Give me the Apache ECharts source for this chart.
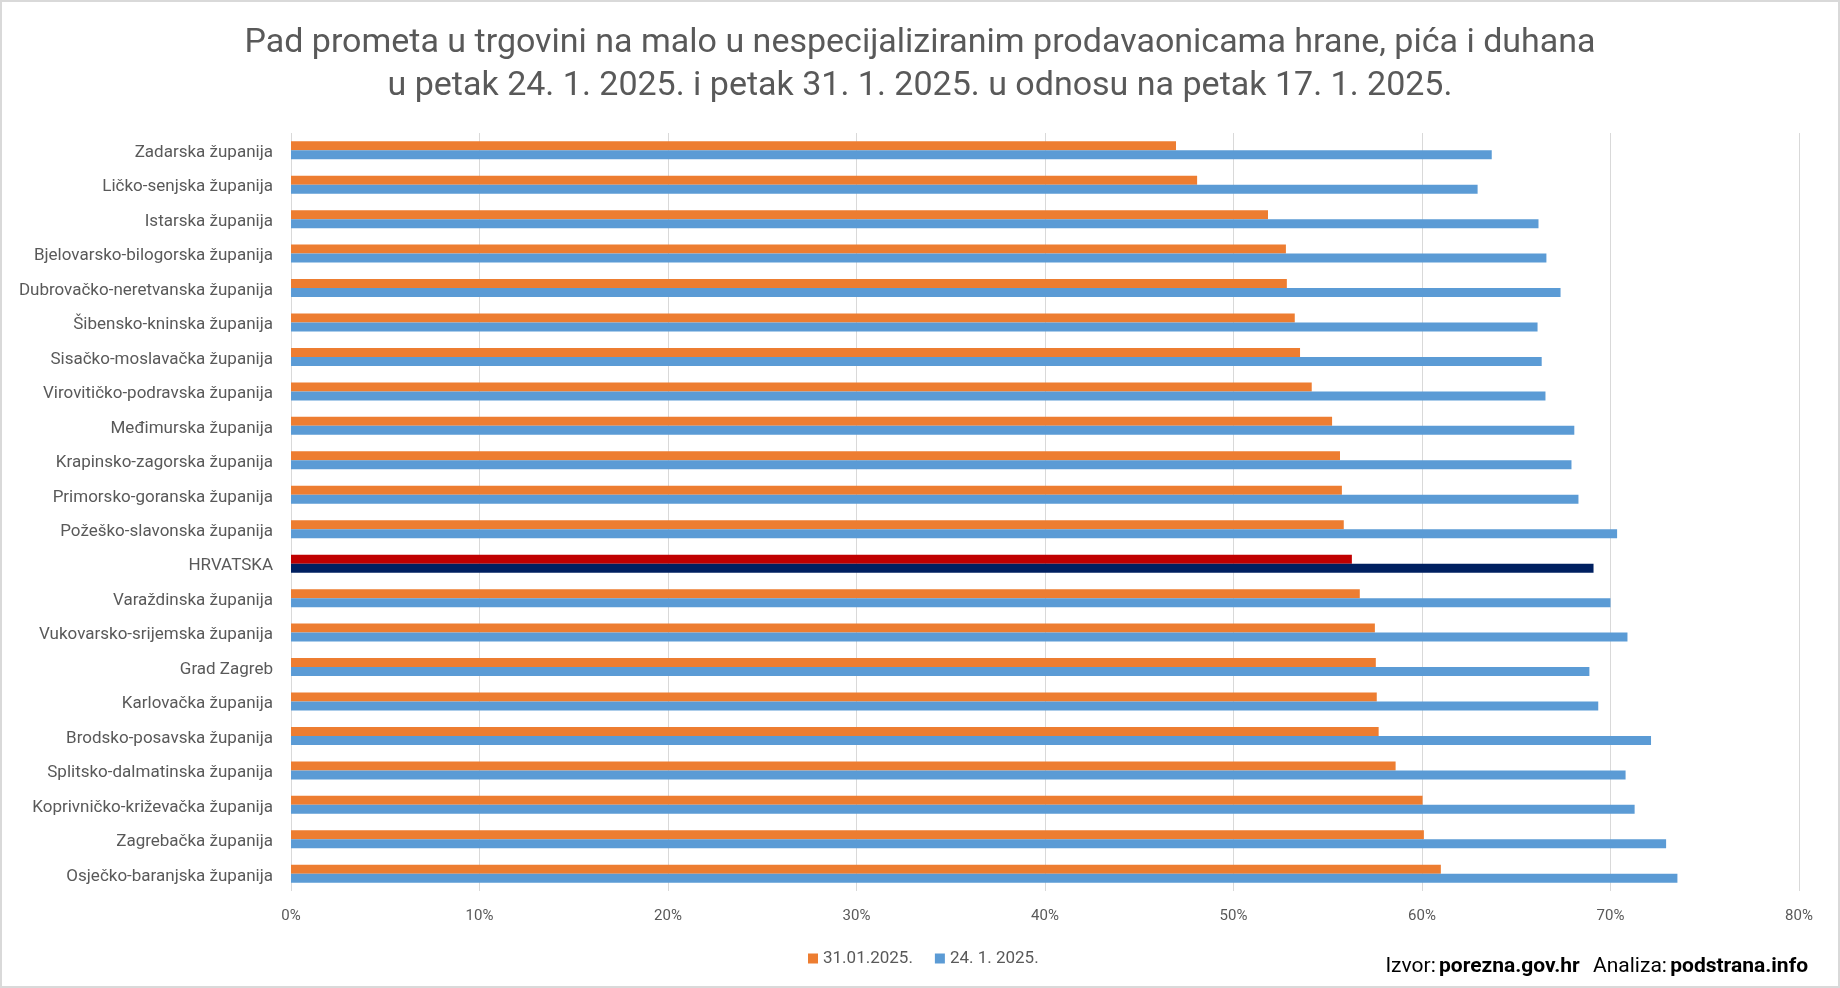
<!DOCTYPE html>
<html>
<head>
<meta charset="utf-8">
<title>Pad prometa u trgovini na malo</title>
<script src="https://cdn.jsdelivr.net/npm/echarts@6/dist/echarts.min.js"></script>
<style>
  html, body { margin: 0; padding: 0; background: #fff; }
  #chart { width: 1840px; height: 988px; }
</style>
</head>
<body>
<div id="chart"></div>
<script>
// counties, top to bottom as in the picture
var counties = [
  "Zadarska županija", "Ličko-senjska županija", "Istarska županija",
  "Bjelovarsko-bilogorska županija", "Dubrovačko-neretvanska županija",
  "Šibensko-kninska županija", "Sisačko-moslavačka županija",
  "Virovitičko-podravska županija", "Međimurska županija",
  "Krapinsko-zagorska županija", "Primorsko-goranska županija",
  "Požeško-slavonska županija", "HRVATSKA", "Varaždinska županija",
  "Vukovarsko-srijemska županija", "Grad Zagreb", "Karlovačka županija",
  "Brodsko-posavska županija", "Splitsko-dalmatinska županija",
  "Koprivničko-križevačka županija", "Zagrebačka županija",
  "Osječko-baranjska županija"
];

// drop in turnover, percent
var drop31Jan = [46.95, 48.07, 51.83, 52.78, 52.83, 53.25, 53.53, 54.15, 55.23, 55.65, 55.75,
                 55.85, 56.28, 56.7, 57.5, 57.55, 57.6, 57.7, 58.6, 60.03, 60.1, 61.0];
var drop24Jan = [63.7, 62.95, 66.18, 66.6, 67.35, 66.13, 66.35, 66.55, 68.08, 67.93, 68.3,
                 70.35, 69.1, 70.0, 70.9, 68.88, 69.35, 72.15, 70.8, 71.28, 72.95, 73.55];

var seriesNames = ["31.01.2025.", "24. 1. 2025."];
var xTicks = [0, 10, 20, 30, 40, 50, 60, 70, 80];

var titleLines = [
  "Pad prometa u trgovini na malo u nespecijaliziranim prodavaonicama hrane, pića i duhana",
  "u petak 24. 1. 2025. i petak 31. 1. 2025. u odnosu na petak 17. 1. 2025."
];

var ORANGE = "#ED7D31", BLUE = "#5B9BD5";
var RED = "#C00000", NAVY = "#002060";
var TEXT = "#595959";
var FONT = "Roboto, 'Noto Sans', sans-serif";

// Croatia total gets its own colours
function withHighlight(values, colour) {
  return values.map(function (v, i) {
    if (counties[i] === "HRVATSKA") return { value: v, itemStyle: { color: colour } };
    return v;
  });
}

var chart = echarts.init(document.getElementById("chart"), null, { renderer: "canvas" });

chart.setOption({
  backgroundColor: "#fff",
  animation: false,
  textStyle: { fontFamily: FONT },
  title: {
    text: titleLines.join("\n"),
    left: "center",
    top: 17,
    textStyle: {
      color: TEXT, fontSize: 34, fontWeight: "normal",
      fontFamily: FONT, lineHeight: 43
    }
  },
  legend: {
    data: seriesNames,
    left: 803,
    top: 945,
    itemWidth: 10,
    itemHeight: 10,
    itemGap: 22,
    icon: "rect",
    textStyle: { color: TEXT, fontSize: 17, fontFamily: FONT }
  },
  grid: { left: 291, right: 41, top: 133, bottom: 97, containLabel: false },
  xAxis: {
    type: "value",
    min: xTicks[0],
    max: xTicks[xTicks.length - 1],
    interval: 10,
    axisLine: { show: false },
    axisTick: { show: false },
    splitLine: { show: true, lineStyle: { color: "#D9D9D9", width: 1 } },
    axisLabel: {
      color: TEXT, fontSize: 15, margin: 18,
      formatter: function (v) { return v + "%"; }
    }
  },
  yAxis: {
    type: "category",
    data: counties,
    inverse: true,
    axisLine: { show: false },
    axisTick: { show: false },
    axisLabel: {
      margin: 18,
      formatter: function (v) { return "{c|" + v + "}"; },
      rich: { c: { color: TEXT, fontSize: 17, fontFamily: FONT, padding: [5, 0, 0, 0] } }
    }
  },
  series: [
    {
      name: seriesNames[0],
      type: "bar",
      data: withHighlight(drop31Jan, RED),
      itemStyle: { color: ORANGE },
      barWidth: 9,
      barGap: "0%"
    },
    {
      name: seriesNames[1],
      type: "bar",
      data: withHighlight(drop24Jan, NAVY),
      itemStyle: { color: BLUE },
      barWidth: 9,
      barGap: "0%"
    }
  ],
  graphic: [
    {
      type: "rect",
      silent: true,
      shape: { x: 1, y: 1, width: 1838, height: 986 },
      style: { fill: "none", stroke: "#D9D9D9", lineWidth: 2 }
    },
    {
      type: "text",
      silent: true,
      x: 1808,
      y: 967,
      style: {
        text: "{n|Izvor:} {b|porezna.gov.hr}    {n|Analiza:} {b|podstrana.info}",
        align: "right",
        verticalAlign: "middle",
        rich: {
          n: { fontSize: 21, color: "#000", fontFamily: FONT },
          b: { fontSize: 21, color: "#000", fontWeight: "bold", fontFamily: FONT }
        }
      }
    }
  ]
});
</script>
</body>
</html>
